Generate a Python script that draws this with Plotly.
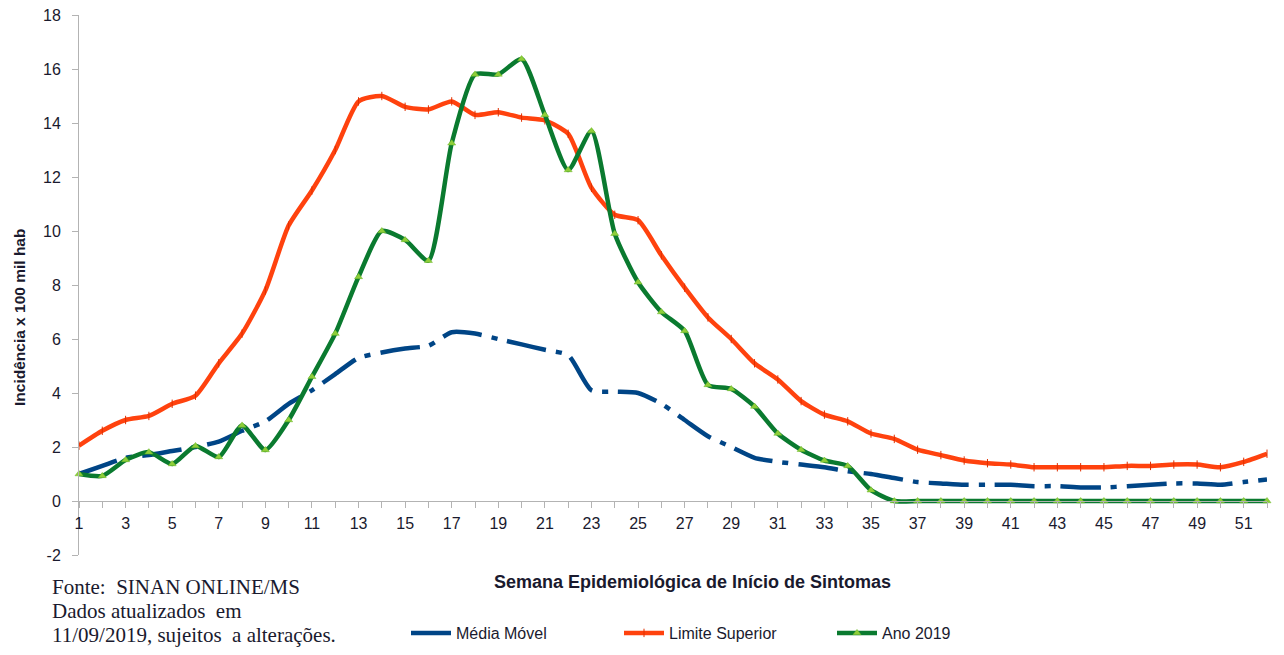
import plotly.graph_objects as go

weeks = list(range(1, 53))

media_movel = [1.0, 1.3, 1.6, 1.7, 1.85, 2.0, 2.2, 2.6, 2.95, 3.6, 4.1, 4.7, 5.3, 5.5, 5.65, 5.75,
               6.25, 6.2, 6.0, 5.8, 5.6, 5.4, 4.1, 4.05, 4.0, 3.6, 3.0, 2.4, 2.0, 1.6, 1.45, 1.35,
               1.25, 1.1, 1.0, 0.85, 0.7, 0.65, 0.6, 0.6, 0.6, 0.55, 0.55, 0.5, 0.5, 0.55, 0.6,
               0.65, 0.65, 0.6, 0.7, 0.8]

limite_superior = [2.05, 2.6, 3.0, 3.15, 3.6, 3.9, 5.1, 6.2, 7.8, 10.2, 11.5, 13.0, 14.8, 15.0,
                   14.6, 14.5, 14.8, 14.3, 14.4, 14.2, 14.1, 13.6, 11.6, 10.6, 10.4, 9.1, 7.9,
                   6.8, 6.0, 5.1, 4.5, 3.7, 3.2, 2.95, 2.5, 2.3, 1.9, 1.7, 1.5, 1.4, 1.35, 1.25,
                   1.25, 1.25, 1.25, 1.3, 1.3, 1.35, 1.35, 1.25, 1.45, 1.75]

ano_2019 = [1.0, 0.93, 1.52, 1.81, 1.37, 2.04, 1.63, 2.8, 1.89, 3.0, 4.6, 6.2, 8.3, 10.0, 9.67,
            8.9, 13.25, 15.8, 15.8, 16.37, 14.3, 12.26, 13.7, 9.9, 8.1, 7.0, 6.3, 4.3, 4.15,
            3.5, 2.5, 1.9, 1.5, 1.3, 0.4, 0, 0, 0, 0, 0, 0, 0, 0, 0, 0, 0, 0, 0, 0, 0, 0, 0]

x_ticks = list(range(1, 53, 2))
y_ticks = list(range(-2, 19, 2))

footnote_lines = ["Fonte:  SINAN ONLINE/MS", "Dados atualizados  em", "11/09/2019, sujeitos  a alterações."]

font_main = "Liberation Sans, Arial, sans-serif"
txt_color = "#1a1a2e"

# plot area in pixels (for placing annotations)
L, R, T, B = 79, 1267, 15, 555
PW, PH = R - L, B - T


def px_x(x):
    return (x - L) / PW


def px_y(y):
    return (B - y) / PH


fig = go.Figure()
fig.add_trace(go.Scatter(
    x=weeks, y=media_movel, name="Média Móvel", mode="lines", cliponaxis=False,
    line=dict(color="#004586", width=4.5, dash="40px,10px,6px,10px", shape="spline", smoothing=0.6),
))
fig.add_trace(go.Scatter(
    x=weeks, y=limite_superior, name="Limite Superior", mode="lines+markers", cliponaxis=False,
    line=dict(color="#ff420e", width=4.5, shape="spline", smoothing=0.6),
    marker=dict(symbol="line-ns", size=6, color="#ff420e", line=dict(color="#e03000", width=1)),
))
fig.add_trace(go.Scatter(
    x=weeks, y=ano_2019, name="Ano 2019", mode="lines+markers", cliponaxis=False,
    line=dict(color="#0a7a2f", width=4.5, shape="spline", smoothing=0.6),
    marker=dict(symbol="triangle-up", size=7, color="#8fce3a", line=dict(color="#6cb82a", width=0.5)),
))

fig.update_layout(
    width=1284, height=655,
    paper_bgcolor="white", plot_bgcolor="white",
    margin=dict(l=L, r=1284 - R, t=T, b=655 - B, autoexpand=False),
    font=dict(family=font_main, size=16, color=txt_color),
    showlegend=True,
    legend=dict(
        orientation="h", x=px_x(406), xanchor="left", y=px_y(633), yanchor="middle",
        entrywidth=158, entrywidthmode="pixels",
        font=dict(family=font_main, size=16, color=txt_color),
        itemwidth=40, bgcolor="rgba(0,0,0,0)",
    ),
)

fig.update_xaxes(
    range=[1, 52], tickmode="array", tickvals=x_ticks, ticktext=[str(v) for v in x_ticks],
    showgrid=False, zeroline=False, showline=True, linecolor="#b3b3b3", linewidth=1,
    ticks="outside", ticklen=6, tickcolor="#b3b3b3",
    minor=dict(ticks="outside", ticklen=6, tickcolor="#b3b3b3", dtick=1, tick0=0),
    anchor="free", position=0.1, ticklabelstandoff=2,
    tickfont=dict(family=font_main, size=16, color=txt_color),
)
fig.update_yaxes(
    range=[-2, 18], tickmode="array", tickvals=y_ticks, ticktext=[str(v) for v in y_ticks],
    showgrid=False, zeroline=False, showline=True, linecolor="#b3b3b3", linewidth=1,
    ticks="outside", ticklen=6, tickcolor="#b3b3b3", ticklabelstandoff=8,
    tickfont=dict(family=font_main, size=16, color=txt_color),
)

fig.add_annotation(
    xref="paper", yref="paper", x=px_x(19), y=px_y(318),
    text="<b>Incidência x 100 mil hab</b>", showarrow=False, textangle=-90,
    font=dict(family=font_main, size=15.5, color=txt_color),
    xanchor="center", yanchor="middle",
)
fig.add_annotation(
    xref="paper", yref="paper", x=px_x(692), y=px_y(582),
    text="<b>Semana Epidemiológica de Início de Sintomas</b>", showarrow=False,
    font=dict(family=font_main, size=18, color=txt_color),
    xanchor="center", yanchor="middle",
)
for i, line in enumerate(footnote_lines):
    fig.add_annotation(
        xref="paper", yref="paper", x=px_x(50), y=px_y(587 + 24 * i),
        text=line, showarrow=False, align="left", xanchor="left", yanchor="middle",
        font=dict(family="Liberation Serif, Times New Roman, serif", size=21, color=txt_color),
    )

fig.write_html(
    "out.html",
    config={"displayModeBar": False},
    post_script="document.body.style.margin='0';document.body.style.overflow='hidden';",
)
